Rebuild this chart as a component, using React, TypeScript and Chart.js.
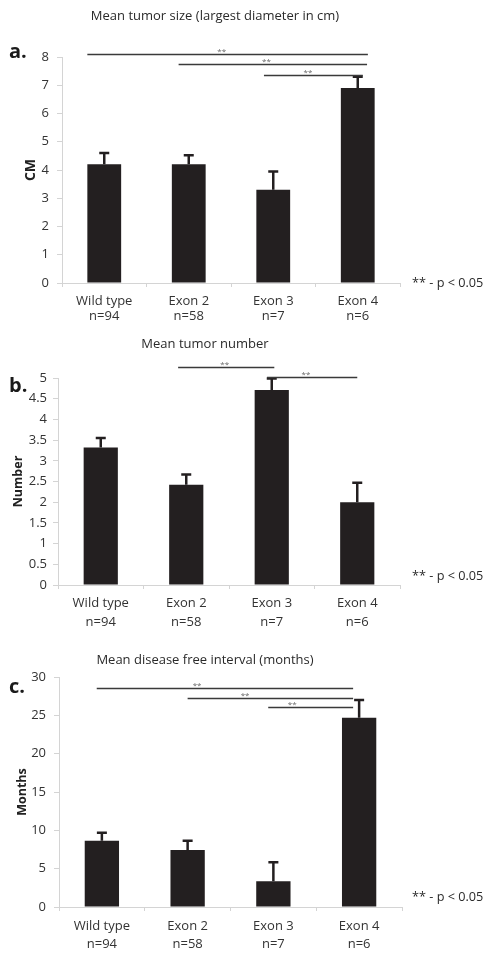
import React, { useEffect, useRef } from "react";
import { Chart, registerables } from "chart.js";

Chart.register(...registerables);

const categories = ["Wild type", "Exon 2", "Exon 3", "Exon 4"];
const sampleSizes = ["n=94", "n=58", "n=7", "n=6"];

// Panel a: mean tumor size (cm)
const sizeMeans = [4.2, 4.2, 3.3, 6.9];
const sizeErrors = [0.4, 0.32, 0.65, 0.4];
// [from category, to category, height, star position]
const sizeSignificance = [
  [-0.2, 3.12, 8.1, 1.39],
  [0.88, 3.11, 7.75, 1.92],
  [1.89, 3.06, 7.36, 2.41],
];

// Panel b: mean tumor number
const numberMeans = [3.32, 2.42, 4.71, 2.0];
const numberErrors = [0.23, 0.25, 0.28, 0.47];
const numberSignificance = [
  [0.905, 2.03, 5.27, 1.45],
  [1.945, 3.0, 5.02, 2.4],
];

// Panel c: mean disease free interval (months)
const intervalMeans = [8.65, 7.43, 3.35, 24.7];
const intervalErrors = [1.05, 1.2, 2.5, 2.3];
const intervalSignificance = [
  [-0.06, 2.93, 28.55, 1.11],
  [1.0, 2.93, 27.25, 1.67],
  [1.94, 2.93, 26.1, 2.22],
];

const BAR = "#231f20";
const AXIS = "#d4d4d4";
const TEXT = "#333333";
const FONT = "'Open Sans', Lato, sans-serif";

const decorPlugin = {
  id: "decor",
  afterDatasetsDraw(chart: any, _args: any, opts: any) {
    const ctx = chart.ctx;
    const xs = chart.scales.x;
    const ys = chart.scales.y;
    const values = chart.data.datasets[0].data as number[];
    const meta = chart.getDatasetMeta(0);
    ctx.save();
    // error bars
    ctx.strokeStyle = BAR;
    ctx.lineWidth = 2.5;
    meta.data.forEach((bar: any, i: number) => {
      const cx = bar.x;
      const y0 = ys.getPixelForValue(values[i]);
      const y1 = ys.getPixelForValue(values[i] + opts.errors[i]);
      ctx.beginPath();
      ctx.moveTo(cx, y0);
      ctx.lineTo(cx, y1);
      ctx.moveTo(cx - 5, y1);
      ctx.lineTo(cx + 5, y1);
      ctx.stroke();
    });
    // significance lines
    ctx.strokeStyle = "#3a3a3a";
    ctx.lineWidth = 1.3;
    ctx.fillStyle = "#666";
    ctx.font = `8px ${FONT}`;
    ctx.textAlign = "center";
    ctx.textBaseline = "bottom";
    opts.sig.forEach((b: number[]) => {
      const yy = Math.round(ys.getPixelForValue(b[2])) + 0.5;
      ctx.beginPath();
      ctx.moveTo(xs.getPixelForValue(b[0]), yy);
      ctx.lineTo(xs.getPixelForValue(b[1]), yy);
      ctx.stroke();
      ctx.fillText("**", xs.getPixelForValue(b[3]), yy + 1);
    });
    ctx.restore();
  },
  afterDraw(chart: any, _args: any, opts: any) {
    const ctx = chart.ctx;
    ctx.save();
    ctx.fillStyle = "#2a2a2a";
    ctx.textBaseline = "middle";
    ctx.textAlign = "center";
    ctx.font = `13px ${FONT}`;
    ctx.fillText(opts.title, opts.titleX, opts.titleY);
    ctx.textAlign = "left";
    ctx.font = `bold 20px ${FONT}`;
    ctx.fillStyle = "#1a1a1a";
    ctx.fillText(opts.letter, 9, opts.letterY);
    ctx.font = `12.7px ${FONT}`;
    ctx.fillStyle = "#2a2a2a";
    ctx.fillText("** - p < 0.05", 412, opts.noteY);
    ctx.restore();
  },
};

type PanelProps = {
  top: number;
  height: number;
  area: { left: number; right: number; top: number; bottom: number };
  yMax: number;
  yStep: number;
  yTitle: string;
  yTitleX: number;
  yTitleSize: number;
  yPad: number;
  xLineHeight: number;
  xPad: number;
  title: string;
  titleX: number;
  titleY: number;
  letter: string;
  letterY: number;
  noteY: number;
  means: number[];
  errors: number[];
  sig: number[][];
};

function Panel(p: PanelProps) {
  const ref = useRef<HTMLCanvasElement>(null);
  useEffect(() => {
    if (!ref.current) return;
    const labels = categories.map((c, i) => [c, sampleSizes[i]]);
    const chart = new Chart(ref.current, {
      type: "bar",
      data: {
        labels,
        datasets: [
          {
            data: p.means,
            backgroundColor: BAR,
            borderWidth: 0,
            barPercentage: 0.4,
            categoryPercentage: 1,
          },
        ],
      },
      plugins: [decorPlugin as any],
      options: {
        animation: false,
        responsive: false,
        devicePixelRatio: 1,
        layout: {
          padding: { left: 0, right: 493 - p.area.right, top: p.area.top, bottom: 0 },
        },
        plugins: {
          legend: { display: false },
          tooltip: { enabled: false },
          decor: {
            errors: p.errors,
            sig: p.sig,
            title: p.title,
            titleX: p.titleX,
            titleY: p.titleY,
            letter: p.letter,
            letterY: p.letterY,
            noteY: p.noteY,
          },
        } as any,
        scales: {
          x: {
            afterFit: (s: any) => {
              s.height = p.height - p.area.bottom;
            },
            border: { color: AXIS, width: 1 },
            grid: {
              display: true,
              drawOnChartArea: false,
              drawTicks: true,
              tickLength: 4,
              offset: true,
              color: AXIS,
            },
            ticks: {
              color: TEXT,
              padding: p.xPad,
              maxRotation: 0,
              font: { family: FONT, size: 13, lineHeight: p.xLineHeight + "px" },
            },
          },
          y: {
            min: 0,
            max: p.yMax,
            afterFit: (s: any) => {
              s.width = p.area.left;
            },
            border: { color: AXIS, width: 1 },
            grid: {
              display: true,
              drawOnChartArea: false,
              drawTicks: true,
              tickLength: 5,
              color: AXIS,
            },
            ticks: {
              stepSize: p.yStep,
              color: TEXT,
              padding: p.yPad,
              font: { family: FONT, size: 13 },
              callback: (v: any) => String(+v),
            },
            title: {
              display: true,
              text: p.yTitle,
              color: "#222",
              padding: { top: p.yTitleX - p.yTitleSize * 0.6, bottom: 0 },
              font: { family: FONT, size: p.yTitleSize, weight: "bold" },
            },
          },
        },
      } as any,
    });
    return () => chart.destroy();
  }, []);
  return (
    <canvas
      ref={ref}
      width={493}
      height={p.height}
      style={{ position: "absolute", left: 0, top: p.top, width: 493, height: p.height }}
    />
  );
}

export default function App() {
  return (
    <div
      style={{
        position: "absolute",
        left: 0,
        top: 0,
        width: 493,
        height: 960,
        background: "#fff",
        overflow: "hidden",
      }}
    >
      <Panel
        top={0}
        height={322}
        area={{ left: 62, right: 400, top: 57, bottom: 283 }}
        yMax={8}
        yStep={1}
        yTitle="CM"
        yTitleX={31}
        yTitleSize={14}
        yPad={8}
        xLineHeight={15}
        xPad={7}
        title="Mean tumor size (largest diameter in cm)"
        titleX={215}
        titleY={16}
        letter="a."
        letterY={52}
        noteY={283}
        means={sizeMeans}
        errors={sizeErrors}
        sig={sizeSignificance}
      />
      <Panel
        top={320}
        height={315}
        area={{ left: 58, right: 400, top: 58, bottom: 265 }}
        yMax={5}
        yStep={0.5}
        yTitle="Number"
        yTitleX={18}
        yTitleSize={12.5}
        yPad={6}
        xLineHeight={19}
        xPad={5}
        title="Mean tumor number"
        titleX={205}
        titleY={24}
        letter="b."
        letterY={66}
        noteY={256}
        means={numberMeans}
        errors={numberErrors}
        sig={numberSignificance}
      />
      <Panel
        top={635}
        height={325}
        area={{ left: 59, right: 402, top: 42, bottom: 272 }}
        yMax={30}
        yStep={5}
        yTitle="Months"
        yTitleX={22}
        yTitleSize={12.5}
        yPad={8}
        xLineHeight={18}
        xPad={6}
        title="Mean disease free interval (months)"
        titleX={205}
        titleY={25}
        letter="c."
        letterY={52}
        noteY={262}
        means={intervalMeans}
        errors={intervalErrors}
        sig={intervalSignificance}
      />
    </div>
  );
}
